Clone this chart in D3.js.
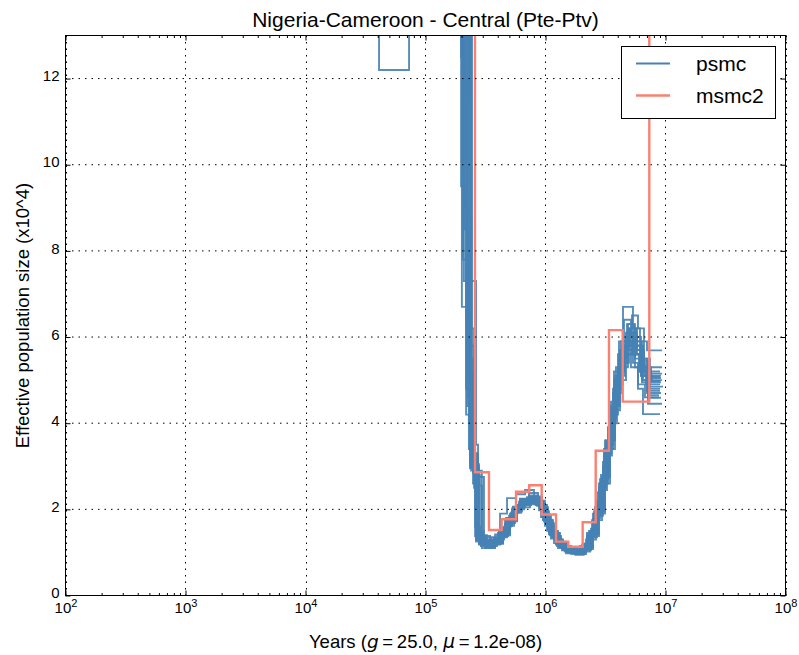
<!DOCTYPE html>
<html>
<head>
<meta charset="utf-8">
<script src="https://cdn.jsdelivr.net/npm/d3@7"></script>
<style>
  html, body { margin: 0; padding: 0; background: #fff; }
  svg { display: block; font-family: "Liberation Sans", Arial, sans-serif; }
</style>
</head>
<body>
<svg id="chart" width="799" height="655"></svg>
<script>
// ---- data -------------------------------------------------------------
// MSMC2 step curve: start time of each interval (years) and Ne (x10^4)
const msmcTimes = [2.0e4, 2.585e5, 3.38e5, 4.31e5, 5.68e5, 7.32e5, 9.29e5, 1.224e6, 1.549e6, 2.04e6, 2.62e6, 3.38e6, 4.40e6, 7.33e6, 1.5e7];
const msmcNe    = [40, 2.86, 1.52, 1.77, 2.41, 2.56, 1.88, 1.25, 1.13, 1.70, 3.36, 6.16, 4.50, 40, 40];

// PSMC runs (main estimate + bootstraps): interval start times (years)
const psmcTimes = [
  [1.60e4, 2.13e5, 2.26e5, 2.40e5, 2.64e5, 2.95e5, 3.58e5, 4.18e5, 4.78e5, 5.47e5, 6.25e5, 7.43e5, 8.83e5, 9.90e5, 1.111e6, 1.271e6, 1.482e6, 1.761e6, 2.054e6, 2.349e6, 2.635e6, 2.957e6, 3.255e6, 3.582e6, 3.943e6, 4.340e6, 4.869e6, 5.568e6, 6.368e6, 7.425e6, 8.994e6],
  [1.32e4, 4.10e4, 7.29e4, 2.01e5, 2.35e5, 2.59e5, 2.90e5, 3.45e5, 4.02e5, 4.60e5, 5.26e5, 6.02e5, 7.15e5, 8.50e5, 9.53e5, 1.069e6, 1.223e6, 1.426e6, 1.695e6, 1.976e6, 2.260e6, 2.536e6, 2.846e6, 3.132e6, 3.448e6, 3.794e6, 4.176e6, 4.686e6, 5.359e6, 6.129e6, 7.010e6, 9.168e6],
  [1.94e4, 2.05e5, 2.22e5, 2.44e5, 2.74e5, 3.07e5, 3.72e5, 4.35e5, 4.97e5, 5.68e5, 6.50e5, 7.72e5, 9.17e5, 1.029e6, 1.155e6, 1.321e6, 1.540e6, 1.830e6, 2.134e6, 2.441e6, 2.738e6, 3.073e6, 3.382e6, 3.722e6, 4.097e6, 4.509e6, 5.059e6, 5.786e6, 6.617e6, 7.715e6, 9.346e6],
  [1.76e4, 1.98e5, 2.09e5, 2.30e5, 2.54e5, 2.79e5, 3.32e5, 3.95e5, 4.52e5, 5.16e5, 5.90e5, 6.88e5, 8.18e5, 9.17e5, 1.029e6, 1.177e6, 1.372e6, 1.631e6, 1.902e6, 2.175e6, 2.441e6, 2.738e6, 3.014e6, 3.318e6, 3.652e6, 4.019e6, 4.509e6, 5.157e6, 5.898e6, 6.746e6, 8.823e6],
  [2.13e4, 2.09e5, 2.22e5, 2.35e5, 2.54e5, 2.84e5, 3.25e5, 3.80e5, 4.18e5, 4.78e5, 5.68e5, 6.75e5, 8.02e5, 9.35e5, 1.049e6, 1.200e6, 1.399e6, 1.663e6, 1.939e6, 2.217e6, 2.488e6, 2.791e6, 3.073e6, 3.382e6, 3.722e6, 4.097e6, 4.509e6, 5.157e6, 5.786e6, 6.617e6, 7.568e6, 8.994e6],
  [1.45e4, 2.30e5, 2.40e5, 2.49e5, 2.69e5, 3.01e5, 3.65e5, 4.26e5, 4.88e5, 5.57e5, 6.37e5, 7.57e5, 9.00e5, 1.009e6, 1.133e6, 1.296e6, 1.511e6, 1.795e6, 2.093e6, 2.394e6, 2.686e6, 3.014e6, 3.318e6, 3.652e6, 4.019e6, 4.424e6, 4.963e6, 5.676e6, 6.492e6, 7.145e6, 9.346e6],
  [2.35e4, 2.05e5, 2.18e5, 2.35e5, 2.59e5, 2.84e5, 3.38e5, 3.95e5, 4.60e5, 5.26e5, 6.13e5, 7.29e5, 8.66e5, 9.71e5, 1.090e6, 1.247e6, 1.454e6, 1.728e6, 2.015e6, 2.304e6, 2.585e6, 2.901e6, 3.193e6, 3.514e6, 3.868e6, 4.257e6, 4.776e6, 5.463e6, 6.247e6, 7.145e6, 9.168e6],
  [1.60e4, 2.22e5, 2.35e5, 2.64e5, 2.74e5, 3.13e5, 3.80e5, 4.43e5, 5.06e5, 5.79e5, 6.62e5, 7.87e5, 9.35e5, 1.049e6, 1.177e6, 1.346e6, 1.570e6, 1.866e6, 2.175e6, 2.488e6, 2.791e6, 3.132e6, 3.448e6, 3.794e6, 4.176e6, 4.597e6, 5.257e6, 5.898e6, 6.617e6, 7.425e6, 9.527e6],
  [1.94e4, 2.01e5, 2.13e5, 2.30e5, 2.49e5, 2.74e5, 3.19e5, 3.87e5, 4.43e5, 5.06e5, 5.79e5, 6.88e5, 8.33e5, 9.53e5, 1.069e6, 1.223e6, 1.426e6, 1.695e6, 1.976e6, 2.260e6, 2.536e6, 2.846e6, 3.193e6, 3.514e6, 3.868e6, 4.257e6, 4.776e6, 5.359e6, 5.898e6, 6.492e6, 8.994e6],
  [1.76e4, 2.26e5, 2.40e5, 2.54e5, 2.79e5, 3.07e5, 3.51e5, 4.10e5, 4.69e5, 5.36e5, 6.13e5, 7.29e5, 8.66e5, 9.90e5, 1.111e6, 1.271e6, 1.482e6, 1.761e6, 2.093e6, 2.394e6, 2.686e6, 3.014e6, 3.318e6, 3.652e6, 4.019e6, 4.424e6, 5.359e6, 6.129e6, 7.010e6, 9.346e6],
  [2.59e4, 2.09e5, 2.22e5, 2.40e5, 2.64e5, 2.95e5, 3.58e5, 4.18e5, 4.78e5, 5.47e5, 6.25e5, 7.43e5, 8.83e5, 9.90e5, 1.111e6, 1.271e6, 1.482e6, 1.761e6, 2.054e6, 2.349e6, 2.635e6, 2.957e6, 3.255e6, 3.582e6, 3.943e6, 4.340e6, 4.869e6, 5.568e6, 6.368e6, 7.284e6, 9.168e6],
  [2.13e4, 1.98e5, 2.13e5, 2.26e5, 2.44e5, 2.69e5, 2.95e5, 3.45e5, 4.02e5, 4.60e5, 5.26e5, 6.02e5, 7.01e5, 8.33e5, 9.35e5, 1.049e6, 1.200e6, 1.399e6, 1.631e6, 1.939e6, 2.217e6, 2.536e6, 2.846e6, 3.132e6, 3.448e6, 3.794e6, 4.176e6, 4.686e6, 5.359e6, 6.129e6, 6.876e6, 8.994e6],
  [1.60e4, 1.98e5, 2.18e5, 2.35e5, 2.64e5, 2.90e5, 3.45e5, 4.10e5, 4.69e5, 5.36e5, 6.13e5, 7.15e5, 8.50e5, 9.71e5, 1.090e6, 1.247e6, 1.454e6, 1.728e6, 2.015e6, 2.304e6, 2.585e6, 2.901e6, 3.193e6, 3.514e6, 3.868e6, 4.257e6, 4.776e6, 5.463e6, 6.247e6, 7.145e6, 9.168e6],
  [1.94e4, 2.44e5, 2.59e5, 2.79e5, 3.19e5, 3.80e5, 4.43e5, 5.06e5, 5.79e5, 6.75e5, 8.02e5, 9.53e5, 1.069e6, 1.200e6, 1.372e6, 1.600e6, 1.902e6, 2.217e6, 2.488e6, 2.791e6, 3.073e6, 3.382e6, 3.722e6, 4.097e6, 4.597e6, 5.257e6, 6.012e6, 6.876e6, 8.994e6],
  [1.45e4, 2.30e5, 2.40e5, 2.54e5, 2.74e5, 3.01e5, 3.65e5, 4.26e5, 4.88e5, 5.57e5, 6.37e5, 7.57e5, 9.00e5, 1.009e6, 1.133e6, 1.296e6, 1.511e6, 1.795e6, 2.093e6, 2.394e6, 2.686e6, 3.014e6, 3.318e6, 3.652e6, 4.019e6, 4.424e6, 4.963e6, 5.676e6, 6.492e6, 7.425e6, 9.346e6],
  [1.76e4, 1.98e5, 2.05e5, 2.22e5, 2.44e5, 2.69e5, 3.07e5, 3.72e5, 4.35e5, 4.97e5, 5.68e5, 6.50e5, 7.72e5, 9.17e5, 1.029e6, 1.155e6, 1.321e6, 1.540e6, 1.830e6, 2.134e6, 2.441e6, 2.738e6, 3.073e6, 3.382e6, 3.722e6, 4.097e6, 4.509e6, 5.059e6, 5.786e6, 6.617e6, 7.568e6, 8.994e6],
  [2.13e4, 2.18e5, 2.35e5, 2.49e5, 2.69e5, 2.95e5, 3.51e5, 4.10e5, 4.69e5, 5.36e5, 6.13e5, 7.29e5, 8.66e5, 9.71e5, 1.090e6, 1.247e6, 1.454e6, 1.728e6, 2.054e6, 2.349e6, 2.635e6, 2.957e6, 3.255e6, 3.582e6, 3.943e6, 4.340e6, 4.869e6, 5.568e6, 6.368e6, 7.284e6, 9.346e6],
  [1.60e4, 2.26e5, 2.40e5, 2.54e5, 2.79e5, 3.13e5, 3.80e5, 4.43e5, 5.06e5, 5.79e5, 6.62e5, 7.87e5, 9.35e5, 1.049e6, 1.177e6, 1.346e6, 1.570e6, 1.866e6, 2.175e6, 2.488e6, 2.791e6, 3.132e6, 3.448e6, 3.794e6, 4.176e6, 4.686e6, 5.359e6, 6.129e6, 7.010e6, 8.994e6],
  [1.94e4, 2.35e5, 2.49e5, 2.74e5, 3.07e5, 3.65e5, 4.26e5, 4.88e5, 5.57e5, 6.37e5, 7.57e5, 9.00e5, 1.009e6, 1.133e6, 1.296e6, 1.511e6, 1.795e6, 2.093e6, 2.394e6, 2.686e6, 3.014e6, 3.318e6, 3.652e6, 4.019e6, 4.424e6, 4.963e6, 5.676e6, 6.492e6, 7.568e6, 9.168e6],
  [1.76e4, 2.40e5, 2.54e5, 2.69e5, 2.95e5, 3.38e5, 4.02e5, 4.60e5, 5.26e5, 6.02e5, 7.01e5, 8.33e5, 9.71e5, 1.090e6, 1.223e6, 1.399e6, 1.631e6, 1.939e6, 2.260e6, 2.536e6, 2.846e6, 3.193e6, 3.514e6, 3.868e6, 4.257e6, 4.776e6, 5.463e6, 6.247e6, 7.145e6, 8.823e6]
];
// PSMC runs: Ne (x10^4) for each interval above
const psmcNe = [
  [45, 9.0, 4.6, 2.9, 1.30, 1.20, 1.26, 1.45, 1.72, 2.00, 2.15, 2.20, 2.05, 1.70, 1.40, 1.16, 1.04, 1.02, 1.14, 1.45, 1.95, 2.7, 3.5, 4.3, 5.0, 5.6, 5.9, 5.5, 5.0, 4.8, 4.8],
  [30, 12.2, 28, 6.7, 3.2, 1.38, 1.15, 1.22, 1.40, 1.65, 1.95, 2.12, 2.25, 2.12, 1.78, 1.45, 1.20, 1.08, 1.00, 1.10, 1.38, 1.85, 2.55, 3.3, 4.1, 4.9, 5.5, 6.1, 5.8, 5.2, 4.7, 4.7],
  [50, 11, 5.2, 3.1, 2.75, 1.35, 1.30, 1.55, 1.85, 2.08, 2.22, 2.28, 2.10, 1.75, 1.45, 1.22, 1.08, 1.05, 1.20, 1.55, 2.1, 2.9, 3.7, 4.5, 5.2, 5.8, 6.2, 5.7, 5.1, 5.0, 5.0],
  [40, 18, 7.3, 3.4, 2.5, 1.22, 1.15, 1.30, 1.60, 1.92, 2.10, 2.18, 2.12, 1.82, 1.50, 1.22, 1.05, 0.97, 1.05, 1.30, 1.75, 2.4, 3.1, 3.9, 4.7, 5.3, 5.7, 5.3, 4.9, 4.6, 4.6],
  [35, 12, 6.0, 3.6, 2.8, 1.40, 1.28, 1.42, 1.90, 2.26, 2.35, 2.45, 2.30, 1.90, 1.55, 1.28, 1.12, 1.05, 1.12, 1.40, 1.90, 2.6, 3.4, 4.3, 5.2, 5.9, 6.4, 6.0, 5.6, 5.3, 5.2, 5.2],
  [42, 10, 5.5, 3.3, 1.45, 1.18, 1.20, 1.38, 1.68, 1.95, 2.10, 2.15, 2.00, 1.65, 1.35, 1.12, 1.00, 0.95, 1.05, 1.35, 1.85, 2.6, 3.4, 4.2, 4.9, 5.4, 5.8, 5.6, 5.0, 4.45, 4.45],
  [55, 8.0, 4.2, 2.95, 1.60, 1.28, 1.25, 1.38, 1.65, 1.98, 2.18, 2.30, 2.15, 1.80, 1.48, 1.22, 1.08, 1.04, 1.18, 1.50, 2.05, 2.8, 3.6, 4.5, 5.3, 5.9, 6.3, 6.0, 5.4, 5.05, 5.05],
  [38, 16, 7.3, 3.5, 1.35, 1.12, 1.22, 1.42, 1.75, 2.02, 2.20, 2.25, 2.05, 1.68, 1.38, 1.15, 1.02, 1.00, 1.12, 1.42, 1.95, 2.75, 3.6, 4.4, 5.1, 5.7, 6.5, 6.2, 5.5, 4.85, 4.85],
  [44, 20, 8.5, 4.0, 2.6, 1.32, 1.20, 1.32, 1.58, 1.90, 2.10, 2.22, 2.10, 1.75, 1.42, 1.18, 1.05, 0.98, 1.08, 1.35, 1.80, 2.5, 3.3, 4.1, 4.8, 5.4, 5.8, 5.4, 4.8, 4.21, 4.21],
  [48, 13, 6.2, 3.0, 1.50, 1.30, 1.35, 1.52, 1.80, 2.05, 2.25, 2.38, 2.20, 1.85, 1.50, 1.25, 1.10, 1.05, 1.20, 1.55, 2.2, 3.0, 3.9, 4.8, 5.6, 6.7, 6.2, 5.9, 5.69, 5.69],
  [33, 15, 7.2, 3.0, 1.25, 1.10, 1.18, 1.35, 1.62, 1.92, 2.05, 2.12, 1.98, 1.62, 1.32, 1.10, 0.98, 0.95, 1.02, 1.30, 1.75, 2.45, 3.25, 4.0, 4.7, 5.3, 5.6, 5.3, 4.95, 4.59, 4.59],
  [52, 22, 10, 5.0, 3.25, 2.9, 1.38, 1.30, 1.45, 1.75, 2.02, 2.18, 2.28, 2.18, 1.85, 1.55, 1.30, 1.15, 1.08, 1.15, 1.45, 1.95, 2.7, 3.6, 4.4, 5.1, 5.7, 6.0, 5.7, 5.35, 5.08, 5.08],
  [46, 9.5, 4.8, 3.0, 1.28, 1.16, 1.24, 1.42, 1.70, 1.98, 2.14, 2.22, 2.08, 1.72, 1.40, 1.15, 1.02, 0.99, 1.10, 1.42, 1.92, 2.65, 3.45, 4.3, 5.0, 5.6, 6.0, 5.6, 5.1, 4.95, 4.95],
  [35, 3.4, 2.6, 1.20, 1.14, 1.28, 1.50, 1.80, 2.04, 2.16, 2.20, 1.95, 1.58, 1.30, 1.10, 1.00, 1.06, 1.32, 1.78, 2.5, 3.3, 4.2, 5.0, 5.5, 5.9, 5.6, 5.2, 4.9, 4.9],
  [40, 11.5, 5.8, 3.3, 1.42, 1.24, 1.26, 1.44, 1.74, 2.02, 2.20, 2.26, 2.10, 1.76, 1.44, 1.18, 1.04, 1.00, 1.12, 1.44, 1.96, 2.7, 3.5, 4.4, 5.2, 5.8, 6.1, 5.8, 5.3, 5.15, 5.15],
  [40, 12.5, 7.8, 4.4, 3.0, 1.34, 1.22, 1.24, 1.46, 1.76, 2.04, 2.16, 2.20, 2.02, 1.66, 1.36, 1.14, 1.02, 0.98, 1.10, 1.46, 1.98, 2.8, 3.6, 4.5, 5.2, 5.7, 6.1, 5.7, 5.2, 4.98, 4.98],
  [38, 6.4, 3.5, 2.85, 1.36, 1.26, 1.28, 1.48, 1.78, 2.06, 2.24, 2.32, 2.16, 1.82, 1.46, 1.20, 1.06, 1.02, 1.16, 1.48, 2.0, 2.75, 3.55, 4.4, 5.1, 5.8, 6.3, 5.9, 5.45, 5.3, 5.3],
  [42, 8.8, 4.0, 3.05, 1.18, 1.10, 1.20, 1.40, 1.72, 2.00, 2.16, 2.20, 2.00, 1.64, 1.34, 1.12, 1.00, 0.96, 1.08, 1.38, 1.90, 2.6, 3.4, 4.3, 5.0, 5.6, 5.9, 5.5, 4.75, 4.75],
  [36, 5.2, 3.15, 1.30, 1.18, 1.26, 1.46, 1.76, 2.04, 2.20, 2.24, 2.06, 1.70, 1.40, 1.16, 1.03, 1.00, 1.12, 1.46, 1.98, 2.7, 3.5, 4.4, 5.2, 5.9, 6.2, 5.8, 5.25, 5.1, 5.1],
  [40, 4.3, 3.0, 2.55, 1.24, 1.22, 1.36, 1.62, 1.94, 2.14, 2.26, 2.14, 1.78, 1.44, 1.20, 1.06, 1.00, 1.10, 1.40, 1.88, 2.6, 3.4, 4.2, 5.0, 5.6, 6.0, 5.7, 5.1, 4.65, 4.65]
];

const xMajorExp = [2, 3, 4, 5, 6, 7, 8];
const yTicks = [0, 2, 4, 6, 8, 10, 12];
const seriesNames = ["psmc", "msmc2"];
const titleText = "Nigeria-Cameroon - Central (Pte-Ptv)";
const yLabelText = "Effective population size (x10^4)";

// ---- layout -----------------------------------------------------------
const W = 799, H = 655;
const m = { left: 65.5, right: 785.5, top: 35.5, bottom: 595.5 };
const colPsmc = "#4682b4", colMsmc = "#fa8072";

const svg = d3.select("#chart");
const x = d3.scaleLog().domain([1e2, 1e8]).range([m.left, m.right]);
const y = d3.scaleLinear().domain([0, 13]).range([m.bottom, m.top]);

svg.append("defs").append("clipPath").attr("id", "plotclip")
  .append("rect").attr("x", m.left).attr("y", m.top)
  .attr("width", m.right - m.left).attr("height", m.bottom - m.top);

const xMajor = xMajorExp.map(e => Math.pow(10, e));
const xMinor = [];
for (let e = 2; e < 8; e++) for (let k = 2; k <= 9; k++) xMinor.push(k * Math.pow(10, e));

// ---- data lines -------------------------------------------------------
const line = d3.line().x(d => x(d[0])).y(d => y(d[1])).curve(d3.curveStepAfter);
const plot = svg.append("g").attr("clip-path", "url(#plotclip)");

psmcTimes.forEach((ts, i) => {
  const pts = ts.map((t, j) => [t, psmcNe[i][j]]);
  plot.append("path").datum(pts).attr("d", line)
    .attr("fill", "none").attr("stroke", colPsmc)
    .attr("stroke-width", 1.9).attr("stroke-opacity", 0.9)
    .attr("stroke-linejoin", "miter");
});

plot.append("path").datum(msmcTimes.map((t, j) => [t, msmcNe[j]])).attr("d", line)
  .attr("fill", "none").attr("stroke", colMsmc).attr("stroke-width", 2.4);

// ---- grid -------------------------------------------------------------
const grid = svg.append("g").attr("stroke", "#000").attr("stroke-width", 1)
  .attr("stroke-dasharray", "1.5,5").attr("fill", "none");
xMajor.forEach(v => grid.append("line")
  .attr("x1", Math.round(x(v)) + 0.5).attr("x2", Math.round(x(v)) + 0.5)
  .attr("y1", m.top).attr("y2", m.bottom));
yTicks.forEach(v => grid.append("line")
  .attr("x1", m.left).attr("x2", m.right)
  .attr("y1", y(v)).attr("y2", y(v)));

// ---- axes (ticks inside on all four sides) ----------------------------
const fontTick = 15;
const axB = svg.append("g").attr("transform", `translate(0,${m.bottom})`)
  .call(d3.axisBottom(x).tickValues(xMajor).tickSize(-5).tickPadding(7).tickFormat(""));
axB.selectAll(".tick").append("text")
  .attr("y", 17.5).attr("text-anchor", "middle").attr("fill", "#000")
  .attr("font-size", fontTick)
  .each(function(d) {
    const t = d3.select(this);
    t.append("tspan").text("10");
    t.append("tspan").attr("dy", -6).attr("font-size", 11).text(Math.round(Math.log10(d)));
  });
svg.append("g").attr("transform", `translate(0,${m.bottom})`)
  .call(d3.axisBottom(x).tickValues(xMinor).tickSize(-2.5).tickFormat(""));
svg.append("g").attr("transform", `translate(0,${m.top})`)
  .call(d3.axisTop(x).tickValues(xMajor).tickSize(-5).tickFormat(""));
svg.append("g").attr("transform", `translate(0,${m.top})`)
  .call(d3.axisTop(x).tickValues(xMinor).tickSize(-2.5).tickFormat(""));

const axL = svg.append("g").attr("transform", `translate(${m.left},0)`)
  .call(d3.axisLeft(y).tickValues(yTicks).tickSize(-5).tickPadding(6).tickFormat(d3.format("d")));
axL.selectAll("text").attr("font-size", fontTick).attr("fill", "#000")
  .attr("dy", "0.15em");
svg.append("g").attr("transform", `translate(${m.right},0)`)
  .call(d3.axisRight(y).tickValues(yTicks).tickSize(-5).tickFormat(""));

svg.selectAll(".domain").remove();
svg.selectAll(".tick line").attr("stroke", "#000").attr("stroke-width", 1);
svg.selectAll(".tick text").attr("font-family", "Liberation Sans, Arial, sans-serif");

// frame
svg.append("rect").attr("x", m.left).attr("y", m.top)
  .attr("width", m.right - m.left).attr("height", m.bottom - m.top)
  .attr("fill", "none").attr("stroke", "#000").attr("stroke-width", 1);

// ---- titles -----------------------------------------------------------
svg.append("text").attr("x", (m.left + m.right) / 2).attr("y", 27)
  .attr("text-anchor", "middle").attr("font-size", 21).text(titleText);

svg.append("text").attr("transform", `translate(29,${(m.top + m.bottom) / 2}) rotate(-90)`)
  .attr("text-anchor", "middle").attr("font-size", 18.5).text(yLabelText);

const xl = svg.append("text").attr("x", (m.left + m.right) / 2).attr("y", 648)
  .attr("text-anchor", "middle").attr("font-size", 18.5);
xl.append("tspan").text("Years (");
xl.append("tspan").attr("font-family", "DejaVu Sans").attr("font-style", "italic").text("g");
xl.append("tspan").text("\u2009=\u200925.0, ");
xl.append("tspan").attr("font-family", "DejaVu Sans").attr("font-style", "italic").text("\u03bc");
xl.append("tspan").text("\u2009=\u20091.2e-08)");

// ---- legend -----------------------------------------------------------
const lg = svg.append("g");
lg.append("rect").attr("x", 621.5).attr("y", 46.5).attr("width", 154).attr("height", 72)
  .attr("fill", "#fff").attr("stroke", "#000").attr("stroke-width", 1);
[[seriesNames[0], colPsmc, 1.9, 63.5], [seriesNames[1], colMsmc, 2.4, 95.5]].forEach(([name, c, w, yy]) => {
  lg.append("line").attr("x1", 636).attr("x2", 670).attr("y1", yy).attr("y2", yy)
    .attr("stroke", c).attr("stroke-width", w);
  lg.append("text").attr("x", 696).attr("y", yy + 7.5).attr("font-size", 21).text(name);
});
</script>
</body>
</html>
